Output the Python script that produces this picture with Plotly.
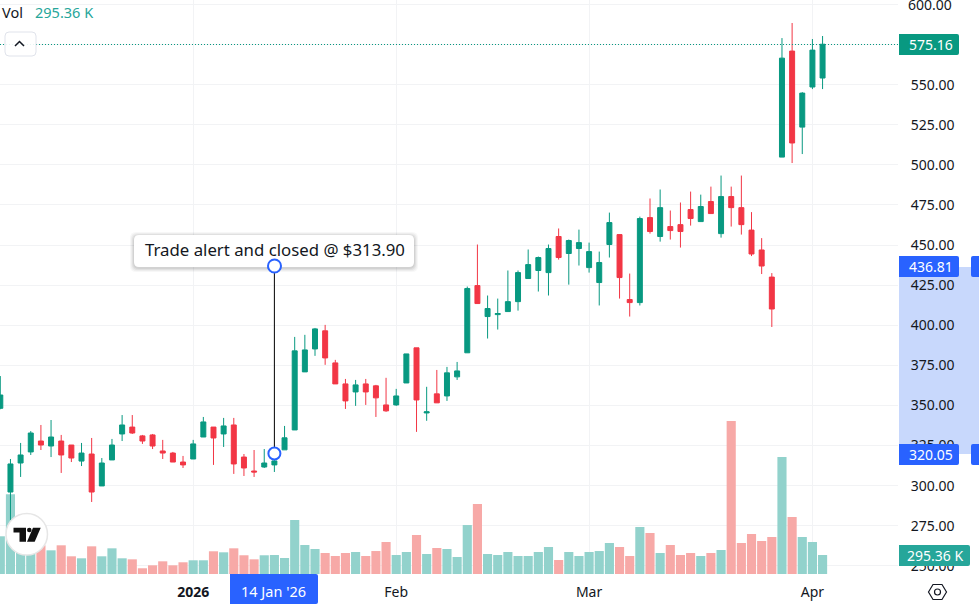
import plotly.graph_objects as go

WIDTH, HEIGHT = 979, 605
PLOT_W, PLOT_H = 898, 574

dates = [
    '2025-12-04', '2025-12-05', '2025-12-08', '2025-12-09', '2025-12-10', '2025-12-11', '2025-12-12',
    '2025-12-15', '2025-12-16', '2025-12-17', '2025-12-18', '2025-12-19', '2025-12-22', '2025-12-23',
    '2025-12-24', '2025-12-26', '2025-12-29', '2025-12-30', '2025-12-31',
    '2026-01-02', '2026-01-05', '2026-01-06', '2026-01-07', '2026-01-08', '2026-01-09', '2026-01-12',
    '2026-01-13', '2026-01-14', '2026-01-15', '2026-01-16', '2026-01-20', '2026-01-21', '2026-01-22',
    '2026-01-23', '2026-01-26', '2026-01-27', '2026-01-28', '2026-01-29', '2026-01-30',
    '2026-02-02', '2026-02-03', '2026-02-04', '2026-02-05', '2026-02-06', '2026-02-09', '2026-02-10',
    '2026-02-11', '2026-02-12', '2026-02-13', '2026-02-17', '2026-02-18', '2026-02-19', '2026-02-20',
    '2026-02-23', '2026-02-24', '2026-02-25', '2026-02-26', '2026-02-27',
    '2026-03-02', '2026-03-03', '2026-03-04', '2026-03-05', '2026-03-06', '2026-03-09', '2026-03-10',
    '2026-03-11', '2026-03-12', '2026-03-13', '2026-03-16', '2026-03-17', '2026-03-18', '2026-03-19',
    '2026-03-20', '2026-03-23', '2026-03-24', '2026-03-25', '2026-03-26', '2026-03-27', '2026-03-30',
    '2026-03-31', '2026-04-01', '2026-04-02',
]

opens = [
    348.2, 296.0, 314.1, 321.0, 327.8, 324.7, 327.8, 325.3, 315.3, 319.7, 299.8, 316.0, 332.2, 336.5,
    331.0, 331.6, 321.6, 320.3, 314.7, 316.6, 330.3, 336.5, 332.2, 337.8, 317.8, 309.1, 311.6, 312.9,
    322.3, 334.7, 370.9, 385.2, 396.5, 376.5, 363.4, 358.4, 363.4, 362.2, 350.3, 350.3, 364.0, 385.9,
    345.3, 357.2, 355.9, 367.8, 382.8, 424.7, 405.4, 406.6, 408.5, 414.7, 429.1, 434.1, 432.8, 455.3,
    444.7, 447.8, 435.9, 426.6, 450.3, 456.5, 416.0, 414.1, 467.1, 455.3, 461.5, 462.7, 472.1, 464.6,
    477.1, 457.1, 480.2, 473.3, 459.3, 446.9, 430.0, 504.8, 570.9, 523.5, 548.5, 554.1,
]
highs = [
    368.3, 316.6, 326.6, 334.0, 337.8, 340.9, 331.6, 325.3, 326.6, 329.7, 317.2, 329.1, 344.0, 344.0,
    331.6, 332.2, 328.5, 321.0, 318.5, 328.5, 342.8, 336.5, 342.2, 342.2, 319.7, 322.2, 322.8, 318.0,
    337.2, 392.7, 394.0, 398.3, 400.2, 378.4, 366.5, 365.9, 366.5, 362.8, 367.2, 360.3, 382.1, 385.9,
    361.6, 372.1, 374.0, 377.1, 424.1, 450.3, 418.5, 416.6, 434.1, 434.1, 447.2, 442.8, 450.3, 460.3,
    453.4, 459.6, 451.5, 445.9, 470.2, 456.5, 432.2, 467.7, 479.0, 484.6, 471.5, 476.5, 483.3, 481.4,
    486.4, 493.3, 486.4, 493.3, 470.5, 454.3, 432.5, 579.0, 588.4, 545.3, 578.4, 580.3,
]
lows = [
    347.6, 278.6, 305.4, 319.1, 322.2, 317.8, 307.9, 314.7, 312.2, 289.8, 299.8, 316.0, 327.8, 332.2,
    326.0, 322.8, 316.6, 314.7, 311.0, 316.6, 330.3, 312.9, 324.1, 307.3, 306.0, 305.4, 311.0, 308.5,
    322.3, 334.7, 370.9, 380.9, 375.3, 363.4, 347.8, 349.7, 350.3, 342.8, 346.0, 349.7, 364.0, 333.5,
    340.4, 351.6, 352.8, 365.9, 382.8, 413.5, 391.7, 397.3, 408.5, 409.1, 429.1, 421.0, 418.5, 440.9,
    425.3, 437.2, 432.8, 412.3, 442.2, 416.6, 405.4, 412.3, 457.1, 452.1, 453.4, 448.4, 462.1, 464.6,
    469.6, 454.6, 461.5, 456.5, 443.1, 431.9, 398.9, 504.8, 501.1, 506.7, 547.2, 547.2,
]
closes = [
    356.5, 313.5, 319.1, 332.8, 325.3, 330.3, 319.1, 317.2, 320.3, 296.0, 314.1, 325.3, 337.8, 332.8,
    327.8, 324.7, 320.3, 314.7, 312.9, 326.0, 339.7, 329.7, 337.2, 313.5, 311.0, 308.5, 314.1, 315.4,
    329.8, 384.0, 384.6, 397.7, 379.6, 363.4, 352.8, 362.8, 358.4, 354.7, 346.6, 355.9, 382.1, 353.4,
    346.0, 351.6, 370.3, 371.5, 422.9, 413.5, 410.4, 407.3, 414.7, 432.8, 437.8, 442.2, 447.8, 442.2,
    452.8, 451.5, 445.9, 439.1, 464.0, 429.7, 414.1, 466.5, 458.4, 473.3, 459.0, 458.4, 466.5, 474.0,
    469.6, 480.2, 473.3, 462.7, 444.4, 436.9, 410.1, 566.5, 513.6, 544.7, 571.5, 575.16,
]
volumes_k = [
    586, 1239, 373, 342, 446, 368, 446, 275, 244, 430, 275, 399, 244, 228, 89, 135, 197, 135, 182, 213,
    213, 353, 337, 399, 291, 228, 291, 295, 249, 839, 451, 389, 326, 280, 326, 342, 280, 357, 497, 295,
    342, 606, 311, 404, 389, 264, 761, 1088, 311, 295, 342, 280, 280, 342, 420, 218, 342, 280, 342, 357,
    482, 420, 280, 730, 637, 326, 451, 295, 326, 280, 326, 373, 2378, 482, 622, 513, 575, 1818, 886,
    575, 497, 295.36,
]

x_tick_dates = ['2026-01-02', '2026-02-02', '2026-03-02', '2026-04-01']
x_tick_labels = ['<b>2026</b>', 'Feb', 'Mar', 'Apr']

alert_date = '2026-01-14'
alert_prices = [320.05, 436.81]
alert_text = 'Trade alert and closed @ $313.90'

GREEN = '#089981'
RED = '#f23645'
BLUE = '#2962ff'
TEAL = '#26a69a'
DARK = '#131722'
GRID = '#f2f3f5'
FONT = 'Noto Sans'


def px(x):
    return x / PLOT_W


def py(y):
    return 1 - y / PLOT_H


def rounded(x0, y0, x1, y1, r_left, r_right):
    # rounded box given in screen pixels, returned as a paper path
    p = f'M{px(x0 + r_left)},{py(y0)} L{px(x1 - r_right)},{py(y0)} '
    p += f'Q{px(x1)},{py(y0)} {px(x1)},{py(y0 + r_right)} L{px(x1)},{py(y1 - r_right)} '
    p += f'Q{px(x1)},{py(y1)} {px(x1 - r_right)},{py(y1)} L{px(x0 + r_left)},{py(y1)} '
    p += f'Q{px(x0)},{py(y1)} {px(x0)},{py(y1 - r_left)} L{px(x0)},{py(y0 + r_left)} '
    p += f'Q{px(x0)},{py(y0)} {px(x0 + r_left)},{py(y0)} Z'
    return p


def poly(points):
    return 'M' + ' L'.join(f'{px(a)},{py(b)}' for a, b in points) + ' Z'


def box(x0, y0, x1, y1, color, r_left=0, r_right=2, layer='above', line=None, opacity=1):
    return dict(type='path', xref='paper', yref='paper', path=rounded(x0, y0, x1, y1, r_left, r_right),
                fillcolor=color, line=dict(color=line or color, width=1 if line else 0),
                layer=layer, opacity=opacity)


def label(text, x, y, color='white', size=14, anchor='center'):
    return dict(text=text, xref='paper', yref='paper', x=px(x), y=py(y), xanchor=anchor, yanchor='middle',
                showarrow=False, font=dict(family=FONT, size=size, color=color))


fig = go.Figure()

vol_colors = ['#92d2cc' if c >= o else '#f7a9a7' for o, c in zip(opens, closes)]
fig.add_trace(go.Bar(x=dates, y=volumes_k, marker=dict(color=vol_colors, line_width=0), yaxis='y', hoverinfo='skip'))

fig.add_trace(go.Candlestick(
    x=dates, open=opens, high=highs, low=lows, close=closes, yaxis='y2', whiskerwidth=0,
    increasing=dict(line=dict(color=GREEN, width=1), fillcolor=GREEN),
    decreasing=dict(line=dict(color=RED, width=1), fillcolor=RED),
))

fig.add_trace(go.Scatter(
    x=[alert_date, alert_date], y=alert_prices, yaxis='y2', mode='lines+markers',
    line=dict(color='black', width=1),
    marker=dict(size=12, color='white', line=dict(color=BLUE, width=2)),
))

shapes = [
    # selected price range on the axis
    dict(type='rect', xref='paper', yref='paper', x0=px(899), x1=px(979), y0=py(267), y1=py(454),
         fillcolor='#c8d8fc', line_width=0, layer='below'),
    # last price line, snapped to a pixel row so the dots stay sharp
    dict(type='line', xref='paper', yref='paper', x0=0, x1=1, y0=py(44.5), y1=py(44.5),
         line=dict(color=GREEN, width=1, dash='1px,2px'), layer='above'),
    # collapse button
    box(5, 32, 36, 56, 'rgba(255,255,255,0.9)', 4, 4, line='#e0e3eb'),
    dict(type='path', xref='paper', yref='paper', path=f'M{px(15)},{py(46)} L{px(19.5)},{py(41.5)} L{px(24)},{py(46)}',
         line=dict(color=DARK, width=1.5)),
]

# callout with a soft shadow
for grow, alpha in [(4, 0.03), (3, 0.04), (2, 0.05), (1, 0.06)]:
    shapes.append(box(134 - grow, 235 - grow + 1, 414 + grow, 267 + grow + 1, f'rgba(0,0,0,{alpha})', 6, 6))
shapes.append(box(134, 235, 414, 267, 'white', 5, 5))
shapes.append(dict(type='circle', xref='paper', yref='paper', x0=px(268), x1=px(281), y0=py(259.5), y1=py(272.5),
                   fillcolor='white', line=dict(color=BLUE, width=2)))

# price and volume tags
shapes.append(box(899, 34, 959, 55, GREEN))
shapes.append(box(899, 256, 959, 277, BLUE))
shapes.append(box(899, 444, 959, 465, BLUE))
shapes.append(box(971, 256, 983, 277, BLUE, 2, 0))
shapes.append(box(971, 444, 983, 465, BLUE, 2, 0))
shapes.append(box(899, 545, 970, 566, TEAL))
shapes.append(box(230, 574, 318, 604, BLUE, 0, 2))

# settings icon
shapes.append(dict(type='path', xref='paper', yref='paper',
                   path=poly([(928.5, 592), (933, 584.5), (942, 584.5), (946.5, 592), (942, 599.5), (933, 599.5)]),
                   line=dict(color=DARK, width=1.2)))
shapes.append(dict(type='circle', xref='paper', yref='paper', x0=px(934.5), x1=px(940.5), y0=py(589), y1=py(595),
                   line=dict(color=DARK, width=1.2)))

# watermark logo
shapes.append(dict(type='circle', xref='paper', yref='paper', x0=px(6), x1=px(47.5), y0=py(513.5), y1=py(555),
                   fillcolor='white', line=dict(color='#e6e6e6', width=1.5)))
shapes.append(dict(type='path', xref='paper', yref='paper',
                   path=poly([(13.5, 527.7), (26, 527.7), (26, 541.7), (19.5, 541.7), (19.5, 532.4), (13.5, 532.4)]),
                   fillcolor='#111111', line_width=0))
shapes.append(dict(type='circle', xref='paper', yref='paper', x0=px(27), x1=px(31.6), y0=py(527.7), y1=py(532.3),
                   fillcolor='#111111', line_width=0))
shapes.append(dict(type='path', xref='paper', yref='paper',
                   path=poly([(33, 527.7), (40.7, 527.7), (34.7, 541.7), (27, 541.7)]),
                   fillcolor='#111111', line_width=0))

annotations = [
    label('Vol', 0, 12, DARK, size=14.5, anchor='left'),
    label('295.36 K', 32.5, 12, TEAL, size=14.5, anchor='left'),
    label(alert_text, 274.5, 250, DARK, size=16.8),
    label('600.00', 930, 4.4, DARK),
    label('575.16', 930.5, 44.5),
    label('436.81', 930.5, 266.5),
    label('320.05', 930.5, 454.5),
    label('295.36 K', 935.5, 555.5),
    label("14 Jan '26", 273.5, 590.5, size=14.5),
]

fig.update_layout(
    width=WIDTH, height=HEIGHT, autosize=False,
    margin=dict(l=0, r=WIDTH - PLOT_W, t=0, b=HEIGHT - PLOT_H, pad=0),
    paper_bgcolor='white', plot_bgcolor='white',
    font=dict(family=FONT, size=14, color=DARK),
    showlegend=False, bargap=0.1, boxgap=0.3,
    xaxis=dict(
        type='category', categoryorder='array', categoryarray=dates,
        range=[-0.03, 88.43], rangeslider=dict(visible=False),
        tickmode='array', tickvals=x_tick_dates, ticktext=x_tick_labels,
        ticks='outside', ticklen=5, tickcolor='rgba(0,0,0,0)', tickangle=0,
        showgrid=True, gridcolor=GRID, gridwidth=1, zeroline=False, showline=False,
    ),
    yaxis=dict(range=[0, 8920], visible=False, showgrid=False, zeroline=False),
    yaxis2=dict(
        overlaying='y', side='right', range=[244.9, 602.74], tick0=0, dtick=25, tickformat='.2f',
        ticks='outside', ticklen=9, tickcolor='rgba(0,0,0,0)',
        showgrid=True, gridcolor=GRID, gridwidth=1, zeroline=False, showline=False,
    ),
    shapes=shapes,
    annotations=annotations,
)

# the browser's default page margin would push the chart off by 8px
fig.write_html("out.html", config={'displayModeBar': False}, post_script="document.body.style.margin = '0';")
